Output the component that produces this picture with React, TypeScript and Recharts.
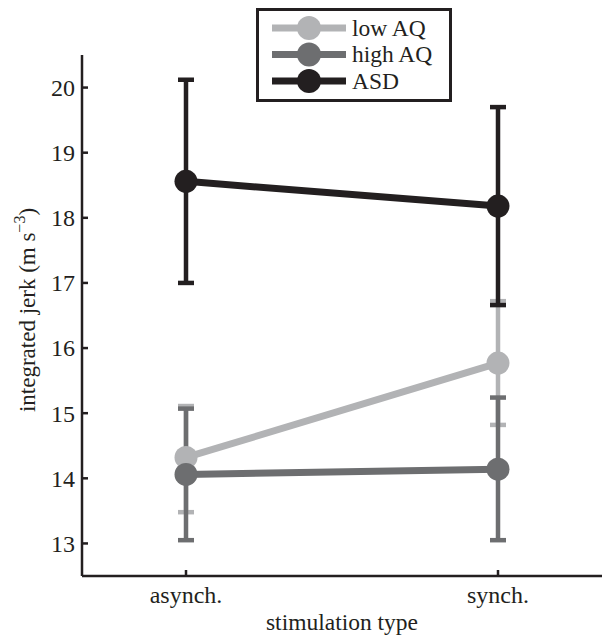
import React from "react"
import { ComposedChart, Line, ErrorBar, XAxis, YAxis, Legend, Label } from "recharts"

// values
const categories = ["asynch.", "synch."]
const positions = [0, 1]

const lowAQ = [14.32, 15.77]
const lowAQLower = [13.48, 14.82]
const lowAQUpper = [15.11, 16.72]

const highAQ = [14.06, 14.14]
const highAQLower = [13.05, 13.05]
const highAQUpper = [15.07, 15.24]

const asd = [18.56, 18.18]
const asdLower = [17.0, 16.66]
const asdUpper = [20.12, 19.7]

const yTicks = [13, 14, 15, 16, 17, 18, 19, 20]

const INK = "#231f20"
const FONT = "'Liberation Serif', 'Times New Roman', serif"

const series = [
  { key: "low", name: "low AQ", color: "#b2b3b5" },
  { key: "high", name: "high AQ", color: "#6d6e70" },
  { key: "asd", name: "ASD", color: INK },
]

const data = positions.map((x, i) => ({
  x,
  low: lowAQ[i],
  lowErr: [lowAQ[i] - lowAQLower[i], lowAQUpper[i] - lowAQ[i]],
  high: highAQ[i],
  highErr: [highAQ[i] - highAQLower[i], highAQUpper[i] - highAQ[i]],
  asd: asd[i],
  asdErr: [asd[i] - asdLower[i], asdUpper[i] - asd[i]],
}))

const YTick = (props: any) => {
  const { x, y, payload } = props
  return (
    <g>
      <line x1={x + 7} x2={x + 13} y1={y} y2={y} stroke={INK} strokeWidth={2.5} />
      <text x={x} y={y} dy="0.35em" textAnchor="end" fontFamily={FONT} fontSize={24} fill={INK}>
        {payload.value}
      </text>
    </g>
  )
}

const XTick = (props: any) => {
  const { x, y, payload } = props
  return (
    <g>
      <line x1={x} x2={x} y1={y - 10} y2={y - 16} stroke={INK} strokeWidth={2.5} />
      <text x={x} y={y} dy="0.7em" textAnchor="middle" fontFamily={FONT} fontSize={24} fill={INK}>
        {categories[payload.value]}
      </text>
    </g>
  )
}

const YLabel = () => (
  <text
    x={27}
    y={310}
    transform="rotate(-90 27 310)"
    textAnchor="middle"
    dominantBaseline="central"
    fontFamily={FONT}
    fontSize={23}
    fill={INK}
  >
    integrated jerk (m s
    <tspan dy={-8} fontSize={16}>−3</tspan>
    <tspan dy={8}>)</tspan>
  </text>
)

const LegendBox = () => (
  <svg width={198} height={96} style={{ display: "block" }}>
    <rect x={1.5} y={1.5} width={193} height={91} fill="#fff" stroke={INK} strokeWidth={3} />
    {series.map((s, i) => {
      const cy = 20 + i * 26.5
      return (
        <g key={s.key}>
          <line x1={16} x2={90} y1={cy} y2={cy} stroke={s.color} strokeWidth={7} />
          <circle cx={53} cy={cy} r={12} fill={s.color} />
          <text x={96} y={cy} dy="0.33em" fontFamily={FONT} fontSize={23.5} fill={INK}>
            {s.name}
          </text>
        </g>
      )
    })}
  </svg>
)

export default function App() {
  return (
    <div style={{ position: "absolute", left: 0, top: 0, background: "#fff" }}>
      <ComposedChart width={605} height={636} data={data} margin={{ top: 55, right: 3, bottom: 0, left: 0 }}>
        <XAxis
          dataKey="x"
          type="number"
          domain={[-1 / 3, 4 / 3]}
          ticks={[0, 1]}
          height={60}
          tickSize={0}
          tickMargin={10}
          tick={<XTick />}
          axisLine={{ stroke: INK, strokeWidth: 2.5 }}
        >
          <Label
            value="stimulation type"
            position="insideBottom"
            offset={6}
            style={{ fontFamily: FONT, fontSize: 23.5, fill: INK }}
          />
        </XAxis>
        <YAxis
          type="number"
          domain={[12.5, 20.5]}
          ticks={yTicks}
          allowDataOverflow
          width={82}
          tickSize={0}
          tickMargin={7}
          tick={<YTick />}
          axisLine={{ stroke: INK, strokeWidth: 2.5 }}
        >
          <Label content={<YLabel />} />
        </YAxis>
        <Legend
          layout="vertical"
          align="center"
          verticalAlign="middle"
          content={<LegendBox />}
          wrapperStyle={{ left: 256, top: 8, width: 198, height: 96 }}
        />
        {series.map((s) => (
          <Line
            key={s.key}
            dataKey={s.key}
            name={s.name}
            stroke={s.color}
            strokeWidth={7}
            dot={{ r: 11.5, fill: s.color, stroke: "none" }}
            activeDot={false}
            isAnimationActive={false}
          >
            <ErrorBar
              dataKey={s.key + "Err"}
              direction="y"
              width={8}
              stroke={s.color}
              strokeWidth={4.5}
              isAnimationActive={false}
            />
          </Line>
        ))}
      </ComposedChart>
    </div>
  )
}
